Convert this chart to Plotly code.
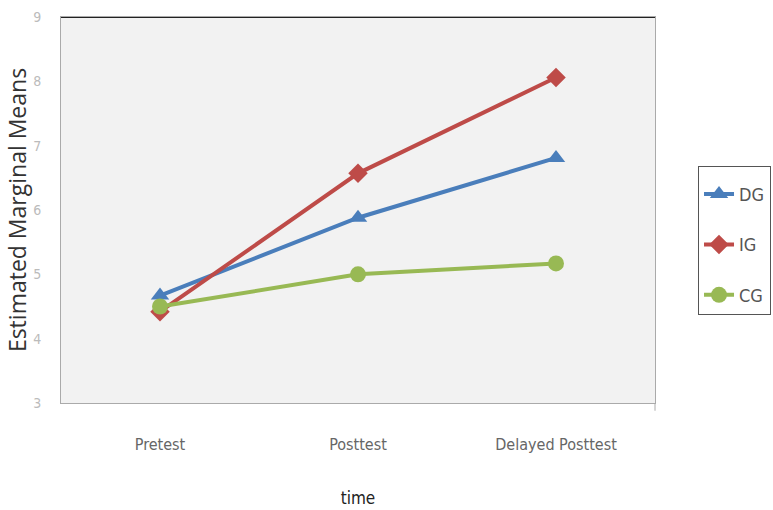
import plotly.graph_objects as go

# Estimated marginal means per group across the three test occasions
times = ["Pretest", "Posttest", "Delayed Posttest"]
dg_means = [4.67, 5.88, 6.81]
ig_means = [4.42, 6.57, 8.06]
cg_means = [4.50, 5.00, 5.17]
y_ticks = [3, 4, 5, 6, 7, 8, 9]

series = [
    ("DG", dg_means, "#4a7ebb", "triangle-up", 16),
    ("IG", ig_means, "#be4b48", "diamond", 15),
    ("CG", cg_means, "#98b954", "circle", 16),
]

fig = go.Figure()
for name, vals, color, symbol, size in series:
    fig.add_trace(go.Scatter(
        x=times, y=vals, name=name, mode="lines+markers",
        legendgroup=name,
        line=dict(color=color, width=4),
        marker=dict(symbol=symbol, size=size, color=color),
    ))

narrow = "DejaVu Sans Condensed, Liberation Sans Narrow, Open Sans, sans-serif"

fig.update_layout(
    width=773, height=510,
    margin=dict(l=61, r=118, t=17, b=107),
    paper_bgcolor="white",
    plot_bgcolor="#f2f2f2",
    font=dict(family=narrow, color="#444"),
    showlegend=True,
    legend=dict(
        xref="container", yref="container",
        x=0.903, xanchor="left", y=0.675, yanchor="top",
        bordercolor="#555", borderwidth=1, bgcolor="white",
        font=dict(size=18, color="#555", family=narrow),
        title=dict(text=" ", font=dict(size=7)),
        tracegroupgap=24, traceorder="grouped",
    ),
    xaxis=dict(
        type="category", range=[-0.5, 2.5], automargin=False,
        showline=True, linecolor="#aaaaaa", linewidth=1, mirror=True,
        showgrid=False, zeroline=False,
        tickfont=dict(size=16, color="#666", family=narrow),
        ticks="", ticklabelstandoff=27,
        title=dict(text="time", font=dict(size=17, color="#222", family=narrow), standoff=38),
    ),
    yaxis=dict(
        range=[3, 9], tickvals=y_ticks, automargin=False,
        showline=True, linecolor="#aaaaaa", linewidth=1, mirror=True,
        showgrid=False, zeroline=False,
        tickfont=dict(size=14, color="#bbbbbb", family=narrow),
        ticks="", ticklabelstandoff=16,
        title=dict(text="Estimated Marginal Means", font=dict(size=23, color="#333", family="Open Sans, sans-serif"), standoff=0),
    ),
)

# dark frame line along the top edge of the plot area
fig.add_shape(type="line", xref="paper", yref="y", x0=0, x1=1, y0=9, y1=9,
              line=dict(color="#222", width=2))
# small tick below the right end of the category axis
fig.add_shape(type="line", xref="paper", yref="paper", x0=1, x1=1, y0=0, y1=-0.02,
              line=dict(color="#aaaaaa", width=1))

fig.write_html("out.html")
